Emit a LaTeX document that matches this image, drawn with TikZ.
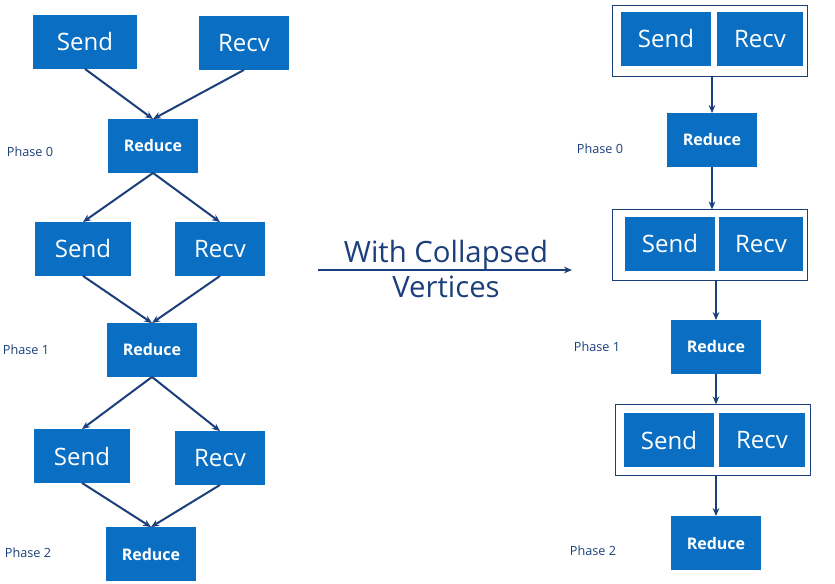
\documentclass[tikz,border=0pt]{standalone}
\usepackage{fontspec}
\setmainfont{Open Sans}
\usetikzlibrary{arrows.meta}
\definecolor{boxblue}{HTML}{0A6FC2}
\definecolor{linkblue}{HTML}{1B3F7A}
\begin{document}
\begin{tikzpicture}[
  x = 0.75pt, y = -0.75pt,
  big/.style = {rectangle, fill = boxblue, text = white, font = \fontsize{18}{20}\selectfont, minimum height = 40pt, inner sep = 0pt},
  red/.style = {rectangle, fill = boxblue, text = white, font = \fontsize{12}{14}\selectfont\bfseries, minimum width = 67pt, minimum height = 40pt, inner sep = 0pt},
  frame/.style = {rectangle, draw = linkblue, fill = white, minimum width = 146pt, minimum height = 53pt, inner sep = 0pt},
  phase/.style = {text = linkblue, font = \fontsize{9.5}{11}\selectfont},
  link/.style = {draw = linkblue, line width = 1.5pt, -{Stealth[length = 6pt, width = 5pt]}}
]
  \useasboundingbox (0,0) rectangle (835,584);

  % left: plain vertices
  \node[big, minimum width = 78pt] (send1) at (85,  42)  {Send};
  \node[big, minimum width = 68pt] (recv1) at (244, 43)  {Recv};
  \node[red]                       (red0)  at (153, 146) {Reduce};
  \node[big, minimum width = 72pt] (send2) at (83,  249) {Send};
  \node[big, minimum width = 68pt] (recv2) at (220, 249) {Recv};
  \node[red]                       (red1)  at (152, 350) {Reduce};
  \node[big, minimum width = 72pt] (send3) at (82,  456) {Send};
  \node[big, minimum width = 68pt] (recv3) at (220, 458) {Recv};
  \node[red]                       (red2)  at (151, 554) {Reduce};

  \node[phase] (p0) at (30, 152) {Phase 0};
  \node[phase] (p1) at (26, 350) {Phase 1};
  \node[phase] (p2) at (28, 553) {Phase 2};

  \draw[link] (send1.south) -- (red0.north);
  \draw[link] (recv1.south) -- (red0.north);
  \draw[link] (red0.south) -- (send2.north);
  \draw[link] (red0.south) -- (recv2.north);
  \draw[link] (send2.south) -- (red1.north);
  \draw[link] (recv2.south) -- (red1.north);
  \draw[link] (red1.south) -- (send3.north);
  \draw[link] (red1.south) -- (recv3.north);
  \draw[link] (send3.south) -- (red2.north);
  \draw[link] (recv3.south) -- (red2.north);

  % middle
  \node[text = linkblue, font = \fontsize{22}{26}\selectfont, align = center] (title) at (446, 269) {With Collapsed\\Vertices};
  \coordinate (ma) at (318, 270);
  \coordinate (mb) at (572, 270);
  \draw[draw = linkblue, line width = 1.2pt, -{Stealth[length = 6pt, width = 5pt]}] (ma) -- (mb);

  % right: collapsed vertices
  \node[frame] (fr1) at (710, 41)  {};
  \node[frame] (fr2) at (710, 245) {};
  \node[frame] (fr3) at (713, 440) {};
  \node[big, minimum width = 67pt] (rsend1) at (666, 39)  {Send};
  \node[big, minimum width = 65pt] (rrecv1) at (760, 39)  {Recv};
  \node[big, minimum width = 67pt] (rsend2) at (670, 244) {Send};
  \node[big, minimum width = 63pt] (rrecv2) at (761, 244) {Recv};
  \node[big, minimum width = 67pt] (rsend3) at (669, 440) {Send};
  \node[big, minimum width = 65pt] (rrecv3) at (762, 440) {Recv};
  \node[red] (rred0) at (712, 140) {Reduce};
  \node[red] (rred1) at (716, 347) {Reduce};
  \node[red] (rred2) at (716, 543) {Reduce};

  \node[phase] (rp0) at (600, 149) {Phase 0};
  \node[phase] (rp1) at (597, 347) {Phase 1};
  \node[phase] (rp2) at (593, 551) {Phase 2};

  \draw[link] (fr1.south -| rred0) -- (rred0);
  \draw[link] (rred0) -- (fr2.north -| rred0);
  \draw[link] (fr2.south -| rred1) -- (rred1);
  \draw[link] (rred1) -- (fr3.north -| rred1);
  \draw[link] (fr3.south -| rred2) -- (rred2);
\end{tikzpicture}
\end{document}
